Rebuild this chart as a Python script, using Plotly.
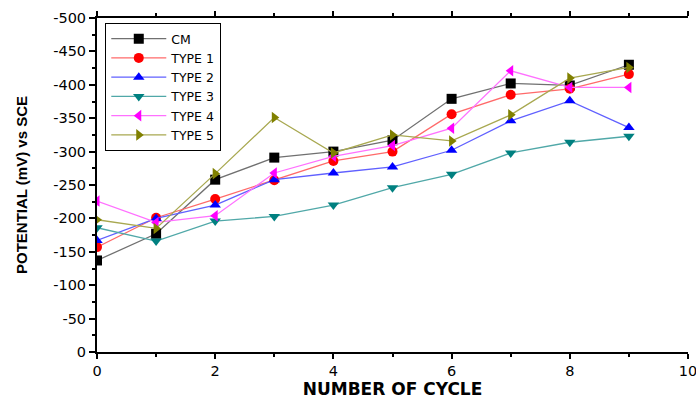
import plotly.graph_objects as go

cycles = [0, 1, 2, 3, 4, 5, 6, 7, 8, 9]
cm = [-137, -177, -258, -291, -300, -317, -379, -402, -399, -430]
type1 = [-157, -201, -229, -257, -286, -300, -356, -385, -394, -416]
type2 = [-167, -200, -220, -258, -268, -277, -302, -346, -376, -336]
type3 = [-186, -166, -196, -203, -220, -246, -266, -298, -314, -323]
type4 = [-226, -194, -204, -268, -293, -309, -335, -421, -396, -396]
type5 = [-198, -185, -267, -351, -298, -325, -316, -355, -410, -426]

series = [
    ("CM", cm, "black", "#707070", "square"),
    ("TYPE 1", type1, "red", "#ff6a6a", "circle"),
    ("TYPE 2", type2, "blue", "#6060ff", "triangle-up"),
    ("TYPE 3", type3, "#008080", "#50a8a8", "triangle-down"),
    ("TYPE 4", type4, "#ff00ff", "#ff70ff", "triangle-left"),
    ("TYPE 5", type5, "#808000", "#a8a850", "triangle-right"),
]

y_ticks = list(range(0, -501, -50))
y_labels = [str(v) for v in y_ticks]
x_ticks = [0, 2, 4, 6, 8, 10]

fig = go.Figure()
for name, vals, mc, lc, sym in series:
    fig.add_trace(go.Scatter(
        x=cycles, y=vals, name=name, mode="lines+markers",
        line=dict(color=lc, width=1.3),
        marker=dict(color=mc, symbol=sym, size=10, line=dict(width=0)),
    ))

tickfont = dict(family="DejaVu Sans, sans-serif", size=14.5)

fig.update_layout(
    width=696, height=399,
    margin=dict(l=97, r=8, t=18, b=47),
    paper_bgcolor="white", plot_bgcolor="white",
    font=dict(family="DejaVu Sans, sans-serif", size=14, color="black"),
    showlegend=True,
    legend=dict(
        x=0.014, y=0.985, xanchor="left", yanchor="top",
        bordercolor="black", borderwidth=1, bgcolor="white",
        font=dict(family="DejaVu Sans, sans-serif", size=12.5),
        tracegroupgap=0, itemwidth=55, entrywidth=145, entrywidthmode="pixels",
    ),
    xaxis=dict(
        range=[0, 10], tickvals=x_ticks, ticktext=[str(v) for v in x_ticks],
        showgrid=False, zeroline=False, automargin=False, ticklabeloverflow="allow",
        showline=True, linecolor="black", linewidth=2, mirror="ticks",
        ticks="outside", ticklen=5, tickwidth=2, tickcolor="black",
        minor=dict(dtick=1, ticklen=3, tickwidth=2, tickcolor="black", ticks="outside"),
        title=dict(text="<b>NUMBER OF CYCLE</b>",
                   font=dict(family="DejaVu Sans, sans-serif", size=17), standoff=15),
        tickfont=tickfont,
    ),
    yaxis=dict(
        range=[0, -500], tickvals=y_ticks, ticktext=y_labels,
        showgrid=False, zeroline=False, automargin=False,
        showline=True, linecolor="black", linewidth=2, mirror=False,
        ticks="outside", ticklen=6, tickwidth=2, tickcolor="black",
        minor=dict(dtick=25, ticklen=3, tickwidth=2, tickcolor="black", ticks="outside"),
        title=dict(text="<b>POTENTIAL (mV) vs SCE</b>",
                   font=dict(family="Liberation Sans, Arial, sans-serif", size=15), standoff=22),
        tickfont=tickfont,
    ),
    yaxis2=dict(
        range=[0, -500], tickvals=y_ticks, overlaying="y", anchor="x", side="right",
        showgrid=False, zeroline=False, automargin=False, showticklabels=False,
        showline=True, linecolor="black", linewidth=2,
        ticks="inside", ticklen=6, tickwidth=2, tickcolor="black",
        minor=dict(dtick=25, ticklen=3, tickwidth=2, tickcolor="black", ticks="inside"),
    ),
)

fig.write_html("out.html")
